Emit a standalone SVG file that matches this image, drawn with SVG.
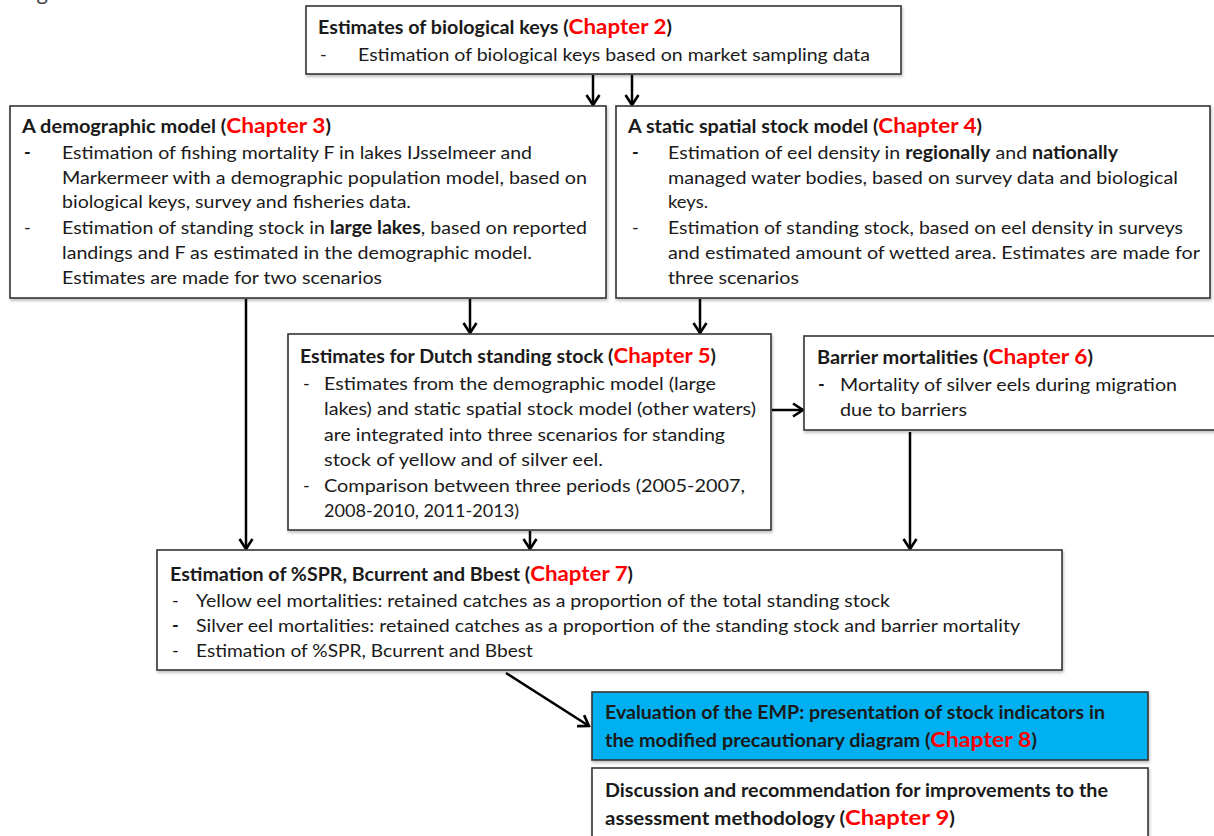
<svg xmlns="http://www.w3.org/2000/svg" width="1214" height="836" viewBox="0 0 1214 836">
<style>
.box{fill:#fff;stroke:#333;stroke-width:1.6}
.blue{fill:#00b0f0;stroke:#333;stroke-width:1.6}
text{font-family:Lato,"Liberation Sans",sans-serif;font-size:18px;fill:#1a1a1a}
.t{font-weight:bold;font-size:18.5px}
.b{font-weight:bold}
.ch{fill:#ff0000;font-weight:bold;font-size:21px}
.c{stroke:#000;stroke-width:2.5;fill:none}
</style>
<defs>
<marker id="ah" markerWidth="13" markerHeight="16" refX="11" refY="8" orient="auto" markerUnits="userSpaceOnUse">
<path d="M1,1.5 L11,8 L1,14.5" fill="none" stroke="#000" stroke-width="2.6"/>
</marker>
<filter id="sh" x="-5%" y="-5%" width="110%" height="115%"><feDropShadow dx="1" dy="2" stdDeviation="1.5" flood-color="#000" flood-opacity="0.25"/></filter>
</defs>
<rect width="1214" height="836" fill="#fff"/>
<text x="8" y="0" style="font-size:22px;fill:#444">diagram</text>

<g id="connectors">
<line class="c" x1="593" y1="75" x2="593" y2="105" marker-end="url(#ah)"/>
<line class="c" x1="632" y1="75" x2="632" y2="105" marker-end="url(#ah)"/>
<line class="c" x1="246" y1="299" x2="246" y2="549" marker-end="url(#ah)"/>
<line class="c" x1="470" y1="299" x2="470" y2="333" marker-end="url(#ah)"/>
<line class="c" x1="700" y1="299" x2="700" y2="333" marker-end="url(#ah)"/>
<line class="c" x1="772" y1="410" x2="803" y2="410" marker-end="url(#ah)"/>
<line class="c" x1="910" y1="432" x2="910" y2="549" marker-end="url(#ah)"/>
<line class="c" x1="530" y1="531" x2="530" y2="549" marker-end="url(#ah)"/>
<line class="c" x1="506" y1="673" x2="589" y2="726" marker-end="url(#ah)"/>
</g>

<g id="ch2">
<rect class="box" filter="url(#sh)" x="306" y="6" width="595" height="68"/>
<text class="t" x="318" y="34" textLength="354" lengthAdjust="spacingAndGlyphs">Estimates of biological keys (<tspan class="ch">Chapter 2</tspan>)</text>
<text x="320" y="61">-</text>
<text x="358" y="61" textLength="512" lengthAdjust="spacingAndGlyphs">Estimation of biological keys based on market sampling data</text>
</g>

<g id="ch3">
<rect class="box" filter="url(#sh)" x="10" y="106" width="596" height="192"/>
<text class="t" x="22" y="133" textLength="309" lengthAdjust="spacingAndGlyphs">A demographic model (<tspan class="ch">Chapter 3</tspan>)</text>
<text class="b" x="24" y="159">-</text>
<text x="62" y="159" textLength="470" lengthAdjust="spacingAndGlyphs">Estimation of fishing mortality F in lakes IJsselmeer and</text>
<text x="62" y="184" textLength="525" lengthAdjust="spacingAndGlyphs">Markermeer with a demographic population model, based on</text>
<text x="62" y="208" textLength="349" lengthAdjust="spacingAndGlyphs">biological keys, survey and fisheries data.</text>
<text x="24" y="234">-</text>
<text x="62" y="234" textLength="525" lengthAdjust="spacingAndGlyphs">Estimation of standing stock in <tspan class="b">large lakes</tspan>, based on reported</text>
<text x="62" y="259" textLength="470" lengthAdjust="spacingAndGlyphs">landings and F as estimated in the demographic model.</text>
<text x="62" y="284" textLength="320" lengthAdjust="spacingAndGlyphs">Estimates are made for two scenarios</text>
</g>

<g id="ch4">
<rect class="box" filter="url(#sh)" x="616" y="106" width="594" height="192"/>
<text class="t" x="628" y="133" textLength="354" lengthAdjust="spacingAndGlyphs">A static spatial stock model (<tspan class="ch">Chapter 4</tspan>)</text>
<text class="b" x="632" y="159">-</text>
<text x="668" y="159" textLength="450" lengthAdjust="spacingAndGlyphs">Estimation of eel density in <tspan class="b">regionally</tspan> and <tspan class="b">nationally</tspan></text>
<text x="668" y="184" textLength="510" lengthAdjust="spacingAndGlyphs">managed water bodies, based on survey data and biological</text>
<text x="668" y="208" textLength="40" lengthAdjust="spacingAndGlyphs">keys.</text>
<text x="632" y="234">-</text>
<text x="668" y="234" textLength="515" lengthAdjust="spacingAndGlyphs">Estimation of standing stock, based on eel density in surveys</text>
<text x="668" y="259" textLength="532" lengthAdjust="spacingAndGlyphs">and estimated amount of wetted area. Estimates are made for</text>
<text x="668" y="284" textLength="131" lengthAdjust="spacingAndGlyphs">three scenarios</text>
</g>

<g id="ch5">
<rect class="box" filter="url(#sh)" x="288" y="334" width="483" height="196"/>
<text class="t" x="300" y="363" textLength="416" lengthAdjust="spacingAndGlyphs">Estimates for Dutch standing stock (<tspan class="ch">Chapter 5</tspan>)</text>
<text x="303" y="390">-</text>
<text x="324" y="390" textLength="392" lengthAdjust="spacingAndGlyphs">Estimates from the demographic model (large</text>
<text x="324" y="415" textLength="432" lengthAdjust="spacingAndGlyphs">lakes) and static spatial stock model (other waters)</text>
<text x="324" y="441" textLength="401" lengthAdjust="spacingAndGlyphs">are integrated into three scenarios for standing</text>
<text x="324" y="466" textLength="279" lengthAdjust="spacingAndGlyphs">stock of yellow and of silver eel.</text>
<text x="303" y="492">-</text>
<text x="324" y="492" textLength="421" lengthAdjust="spacingAndGlyphs">Comparison between three periods (2005-2007,</text>
<text x="324" y="517" textLength="195" lengthAdjust="spacingAndGlyphs">2008-2010, 2011-2013)</text>
</g>

<g id="ch6">
<rect class="box" filter="url(#sh)" x="804" y="336" width="420" height="94"/>
<text class="t" x="817" y="364" textLength="276" lengthAdjust="spacingAndGlyphs">Barrier mortalities (<tspan class="ch">Chapter 6</tspan>)</text>
<text class="b" x="818" y="391">-</text>
<text x="840" y="391" textLength="337" lengthAdjust="spacingAndGlyphs">Mortality of silver eels during migration</text>
<text x="840" y="416" textLength="127" lengthAdjust="spacingAndGlyphs">due to barriers</text>
</g>

<g id="ch7">
<rect class="box" filter="url(#sh)" x="157" y="550" width="905" height="120"/>
<text class="t" x="170" y="581" textLength="463" lengthAdjust="spacingAndGlyphs">Estimation of %SPR, Bcurrent and Bbest (<tspan class="ch">Chapter 7</tspan>)</text>
<text x="172" y="607">-</text>
<text x="196" y="607" textLength="694" lengthAdjust="spacingAndGlyphs">Yellow eel mortalities: retained catches as a proportion of the total standing stock</text>
<text class="b" x="172" y="632">-</text>
<text x="196" y="632" textLength="824" lengthAdjust="spacingAndGlyphs">Silver eel mortalities: retained catches as a proportion of the standing stock and barrier mortality</text>
<text x="172" y="657">-</text>
<text x="196" y="657" textLength="337" lengthAdjust="spacingAndGlyphs">Estimation of %SPR, Bcurrent and Bbest</text>
</g>

<g id="ch8">
<rect class="blue" filter="url(#sh)" x="592" y="692" width="556" height="68"/>
<text class="b" x="605" y="719" textLength="500" lengthAdjust="spacingAndGlyphs">Evaluation of the EMP: presentation of stock indicators in</text>
<text class="b" x="605" y="747" textLength="432" lengthAdjust="spacingAndGlyphs">the modified precautionary diagram (<tspan class="ch">Chapter 8</tspan>)</text>
</g>

<g id="ch9">
<rect class="box" filter="url(#sh)" x="592" y="768" width="556" height="80"/>
<text class="b" x="605" y="797" textLength="503" lengthAdjust="spacingAndGlyphs">Discussion and recommendation for improvements to the</text>
<text class="b" x="605" y="825" textLength="350" lengthAdjust="spacingAndGlyphs">assessment methodology  (<tspan class="ch">Chapter  9</tspan>)</text>
</g>
</svg>
